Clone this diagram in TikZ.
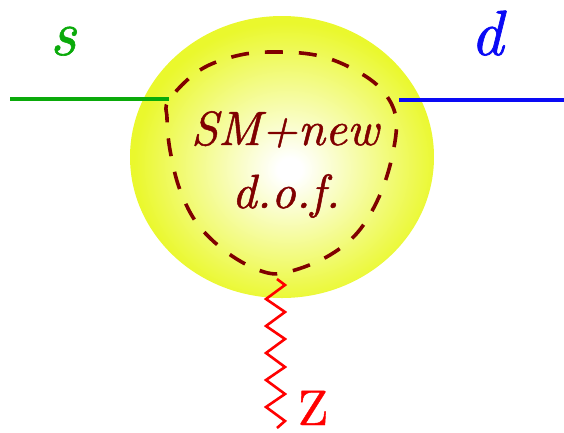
\documentclass[tikz,border=0pt]{standalone}
\usepackage{fontspec}
\newfontfamily\lmit{lmroman10-italic.otf}[FakeBold=1.0]
\newfontfamily\lmup{lmroman10-regular.otf}[FakeBold=0.8]
\usetikzlibrary{shapes.geometric}
\definecolor{ballyellow}{RGB}{234,248,45}
\definecolor{sgreen}{RGB}{10,170,10}
\definecolor{dblue}{RGB}{10,10,245}
\definecolor{maroonc}{RGB}{128,0,0}
\definecolor{zred}{RGB}{255,0,0}
\pgfdeclareradialshading{ball}{\pgfpoint{1.3bp}{-2.3bp}}{color(0bp)=(white); color(2bp)=(white); color(25bp)=(ballyellow); color(50bp)=(ballyellow)}
\tikzset{
  quarkline/.style={line width=3.2pt},
  loopline/.style={maroonc, line width=3.6pt, dash pattern=on 18pt off 16pt},
  zline/.style={zred, line width=2.6pt},
  lbl/.style={inner sep=0pt, anchor=base},
  blobtext/.style={lbl, text=maroonc, font=\lmit\fontsize{48}{60}\selectfont},
}
\begin{document}
\begin{tikzpicture}[x=1pt,y=-1pt]
\useasboundingbox (0,0) rectangle (564,432);
\node[ellipse, minimum width=304pt, minimum height=282pt, inner sep=0pt, shade, shading=ball] (blob) at (282,157) {};
\draw[loopline] plot[smooth cycle, tension=0.6] coordinates {(169,100) (200,70) (240,55) (280,52) (320,56) (355,70) (382,90) (396,118) (392,157) (379,197) (358,232) (330,255) (295,270) (268,273) (232,256) (199,226) (180,190) (170,150) (167,118)};
\coordinate (sstart) at (10,99);
\coordinate (sjoin) at (169,99);
\coordinate (djoin) at (399,100);
\coordinate (dend) at (564,100);
\coordinate (zstart) at (277,279);
\coordinate (zend) at (277,428);
\draw[quarkline, sgreen] (sstart) -- (sjoin);
\draw[quarkline, dblue] (djoin) -- (dend);
\draw[zline] (zstart) -- (285,285) -- (266,299) -- (285,312) -- (266,326) -- (285,339) -- (266,353) -- (285,367) -- (266,380) -- (285,394) -- (266,407) -- (285,421) -- (zend);
\node[blobtext] (sm) at (285,145) {SM+new};
\node[blobtext] (dof) at (286,208) {d.o.f.};
\node[lbl, text=sgreen, font=\lmit\fontsize{64}{70}\selectfont] (s) at (63,55) {s};
\node[lbl, text=dblue, font=\lmit\fontsize{64}{70}\selectfont] (d) at (487,55) {d};
\node[lbl, text=zred, font=\lmup\fontsize{50}{60}\selectfont] (z) at (313,425) {Z};
\end{tikzpicture}
\end{document}
